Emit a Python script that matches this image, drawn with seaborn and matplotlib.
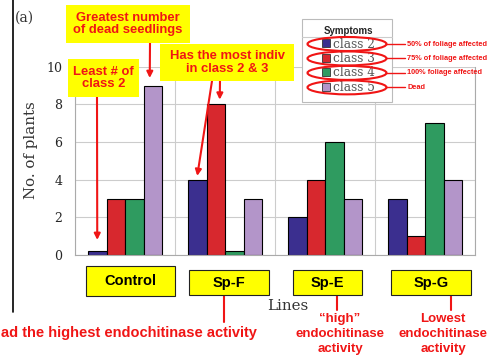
import matplotlib
matplotlib.use('Agg')
import matplotlib.pyplot as plt
import seaborn as sns
import pandas as pd
import numpy as np
from matplotlib.patches import Rectangle, Ellipse
from matplotlib.lines import Line2D

# data
lines = ['Control', 'Sp-F', 'Sp-E', 'Sp-G']
classes = ['class 2', 'class 3', 'class 4', 'class 5']
class2 = [0.2, 4, 2, 3]
class3 = [3, 8, 4, 1]
class4 = [3, 0.2, 6, 7]
class5 = [9, 3, 3, 4]
symptoms = ['50% of foliage affected', '75% of foliage affected',
            '100% foliage affected', 'Dead']
colors = ['#3b2f8f', '#d7282e', '#2f9b60', '#b395c9']

df = pd.DataFrame({'Line': lines * 4,
                   'Class': np.repeat(classes, 4),
                   'Plants': class2 + class3 + class4 + class5})

W, H = 494, 356
RED = '#f01515'
SANS = 'Liberation Sans'
SERIF = 'DejaVu Serif'


def px(x, y):
    # image pixel (top-left origin) -> figure fraction
    return x / W, 1 - y / H


sns.set_style('white')
fig = plt.figure(figsize=(W / 100, H / 100), dpi=100)
ax = fig.add_axes([75 / W, 101 / H, 400 / W, 188.3 / H])

bar_w = 0.74
sns.barplot(data=df, x='Line', y='Plants', hue='Class', order=lines,
            hue_order=classes, palette=colors, saturation=1, width=bar_w,
            edgecolor='black', linewidth=0.8, legend=False, ax=ax)

ax.set_xlim(-0.5, 3.5)
ax.set_ylim(0, 10)
ax.set_yticks(range(0, 11, 2))
ax.set_xticks(range(4))
ax.set_xticklabels([])
ax.set_xticks([-0.5, 0.5, 1.5, 2.5, 3.5], minor=True)
ax.tick_params(axis='x', which='major', length=0)
ax.tick_params(axis='x', which='minor', length=3, color='#aaaaaa')
ax.tick_params(axis='y', length=0, pad=9, labelsize=9)
for t in ax.get_yticklabels():
    t.set_family(SERIF)
ax.grid(axis='y', color='#cccccc', lw=0.8)
ax.grid(axis='x', which='minor', color='#cccccc', lw=0.8)
ax.set_axisbelow(True)
ax.spines['top'].set_visible(False)
for s in ['left', 'right', 'bottom']:
    ax.spines[s].set_color('#aaaaaa')

ax.set_ylabel('No. of plants', family=SERIF, fontsize=10.8, color='#333333')
ax.yaxis.set_label_coords((38 - 75) / 400, (255 - 150) / 188.3)
ax.set_xlabel('Lines', family=SERIF, fontsize=10.8, color='#333333')
ax.xaxis.set_label_coords((288 - 75) / 400, (255 - 299) / 188.3)

# legend: frame drawn by hand, entries placed to match the picture
handles = [Rectangle((0, 0), 1, 1, fc=c, ec='#333333', lw=0.6) for c in colors]
leg = ax.legend(handles, classes, title='Symptoms', loc='upper left',
                bbox_to_anchor=px(322, 22), bbox_transform=fig.transFigure,
                prop=dict(family=SERIF, size=8.7),
                title_fontproperties=dict(family=SANS, weight='bold', size=7),
                labelcolor='#555555', frameon=False,
                handlelength=0.65, handleheight=0.65, handletextpad=0.25,
                labelspacing=0.12, borderpad=0, borderaxespad=0)
leg.set_zorder(6)
ax.add_patch(Rectangle(px(302, 102), 90 / W, 83 / H, fc='white', ec='#bbbbbb',
                       lw=0.8, transform=fig.transFigure, clip_on=False,
                       zorder=5.5))
ax.add_line(Line2D([302 / W, 392 / W], [px(0, 37)[1]] * 2, color='#cccccc',
                   lw=0.8, transform=fig.transFigure, clip_on=False, zorder=5.6))

fig.canvas.draw()
rend = fig.canvas.get_renderer()
bb = leg.get_texts()[0].get_window_extent(rend)
hb = leg.legend_handles[0].get_window_extent(rend)
dx = 322 - hb.x0
dy = 44 - (H - (bb.y0 + bb.y1) / 2)
leg.set_bbox_to_anchor(px(322 + dx, 22 + dy), transform=fig.transFigure)
fig.canvas.draw()

# red ellipses round the legend entries + symptom notes
for t, note in zip(leg.get_texts(), symptoms):
    bb = t.get_window_extent(rend)
    yc = H - (bb.y0 + bb.y1) / 2
    fig.patches.append(Ellipse(px(347, yc), 79 / W, 14 / H, fill=False,
                               ec=RED, lw=1.5, transform=fig.transFigure))
    fig.lines.append(Line2D([386 / W, 405 / W], [px(0, yc)[1]] * 2,
                            color=RED, lw=1, transform=fig.transFigure))
    fig.text(*px(407, yc), note, color=RED, family=SANS, weight='bold',
             fontsize=5.3, ha='left', va='center')


def box(x0, y0, x1, y1, text, size, edge='none'):
    fig.patches.append(Rectangle(px(x0, y1), (x1 - x0) / W, (y1 - y0) / H,
                                 fc='#ffff00', ec=edge, lw=0.8,
                                 transform=fig.transFigure, zorder=5))
    fig.text(*px((x0 + x1) / 2, (y0 + y1) / 2), text,
             color=RED if edge == 'none' else 'black',
             family=SANS, weight='bold', fontsize=size, ha='center',
             va='center', linespacing=1.05, zorder=6)


box(66, 5, 190, 43, 'Greatest number\nof dead seedlings', 9.4)
box(68, 59, 139, 97, 'Least # of\nclass 2', 9.4)
box(160, 44, 294, 81, 'Has the most indiv\nin class 2 & 3', 9.4)

offs = [(-1.5 + i) * bar_w / 4 for i in range(4)]
arrow = dict(arrowstyle='-|>', color=RED, lw=1.5, mutation_scale=9,
             shrinkA=0, shrinkB=0)
ax.annotate('', xy=(0 + offs[3] - 0.03, class5[0] + 0.4), xytext=px(150, 43),
            textcoords='figure fraction', arrowprops=arrow, annotation_clip=False)
ax.annotate('', xy=(0 + offs[0], class2[0] + 0.6), xytext=px(97, 97),
            textcoords='figure fraction', arrowprops=arrow, annotation_clip=False)
ax.annotate('', xy=(1 + offs[1] + 0.04, class3[1] + 0.25), xytext=px(220, 81),
            textcoords='figure fraction', arrowprops=arrow, annotation_clip=False)
ax.annotate('', xy=(1 + offs[0], class2[1] + 0.2), xytext=px(212, 81),
            textcoords='figure fraction', arrowprops=arrow, annotation_clip=False)

# line name boxes under the axis
box(86, 266, 175, 296, 'Control', 10.5, edge='#222222')
box(189, 270, 269, 295, 'Sp-F', 10.5, edge='#222222')
box(293, 270, 362, 295, 'Sp-E', 10.5, edge='#222222')
box(391, 270, 471, 295, 'Sp-G', 10.5, edge='#222222')

for x, y1 in [(224, 322), (337, 310), (451, 310)]:
    fig.lines.append(Line2D([x / W] * 2, [px(0, 295)[1], px(0, y1)[1]],
                            color=RED, lw=1.5, transform=fig.transFigure))

note = dict(color=RED, family=SANS, weight='bold', va='center', linespacing=1.3)
fig.text(*px(257, 333), 'ad the highest endochitinase activity', ha='right',
         fontsize=10.5, **note)
fig.text(*px(340, 334), '\u201chigh\u201d\nendochitinase\nactivity', ha='center',
         fontsize=9.5, **note)
fig.text(*px(443, 334), 'Lowest\nendochitinase\nactivity', ha='center',
         fontsize=9.5, **note)

# panel label and left border
fig.text(*px(24, 18), '(a)', family=SERIF, fontsize=10, color='#333333',
         ha='center', va='center')
fig.lines.append(Line2D([12.7 / W] * 2, [1, px(0, 312)[1]], color='black',
                        lw=1.2, transform=fig.transFigure))

fig.savefig('out.png', dpi=100)
